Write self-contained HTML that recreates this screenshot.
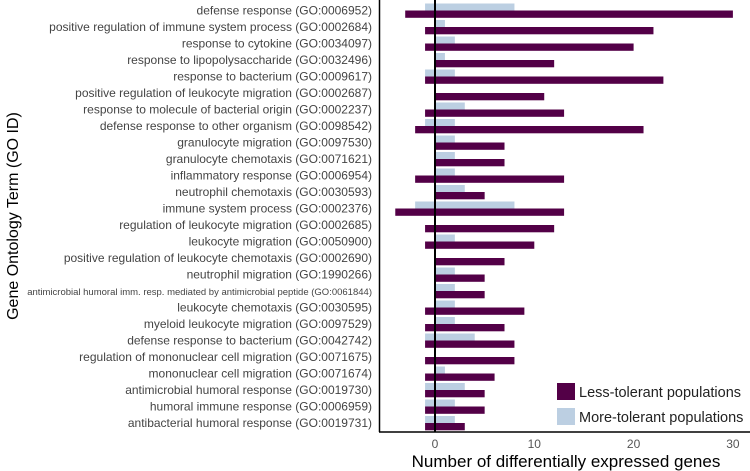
<!DOCTYPE html>
<html><head><meta charset="utf-8"><style>
html,body{margin:0;padding:0;background:#fff;}
svg{display:block;font-family:"Liberation Sans",sans-serif;}
</style></head><body>
<svg id="chart" width="750" height="471"></svg>
<script>
const terms = ["defense response (GO:0006952)","positive regulation of immune system process (GO:0002684)","response to cytokine (GO:0034097)","response to lipopolysaccharide (GO:0032496)","response to bacterium (GO:0009617)","positive regulation of leukocyte migration (GO:0002687)","response to molecule of bacterial origin (GO:0002237)","defense response to other organism (GO:0098542)","granulocyte migration (GO:0097530)","granulocyte chemotaxis (GO:0071621)","inflammatory response (GO:0006954)","neutrophil chemotaxis (GO:0030593)","immune system process (GO:0002376)","regulation of leukocyte migration (GO:0002685)","leukocyte migration (GO:0050900)","positive regulation of leukocyte chemotaxis (GO:0002690)","neutrophil migration (GO:1990266)","antimicrobial humoral imm. resp. mediated by antimicrobial peptide (GO:0061844)","leukocyte chemotaxis (GO:0030595)","myeloid leukocyte migration (GO:0097529)","defense response to bacterium (GO:0042742)","regulation of mononuclear cell migration (GO:0071675)","mononuclear cell migration (GO:0071674)","antimicrobial humoral response (GO:0019730)","humoral immune response (GO:0006959)","antibacterial humoral response (GO:0019731)"];
const lessLow  = [-3,-1,-1,0,-1,0,-1,-2,0,0,-2,0,-4,-1,-1,0,0,0,-1,-1,-1,-1,-1,-1,-1,-1];
const lessHigh = [30,22,20,12,23,11,13,21,7,7,13,5,13,12,10,7,5,5,9,7,8,8,6,5,5,3];
const moreLow  = [-1,0,0,0,-1,0,0,-1,0,0,0,0,-2,0,0,0,0,0,0,0,-1,0,0,-1,-1,-1];
const moreHigh = [8,1,2,1,2,0,3,2,2,2,2,3,8,0,2,0,2,2,2,2,4,0,1,3,2,2];
const xTicks = [0,10,20,30];

const NS="http://www.w3.org/2000/svg";
const svg=document.getElementById('chart');
function mk(tag,attrs,parent){const e=document.createElementNS(NS,tag);for(const k in attrs)e.setAttribute(k,attrs[k]);(parent||svg).appendChild(e);return e;}
const x=v=>435+v*9.93;
const rowY=i=>10.5+i*16.5;

terms.forEach((t,i)=>{
  const c=rowY(i);
  if(moreHigh[i]>moreLow[i]){
    const r=mk('rect',{x:x(moreLow[i]),y:c-7,width:x(moreHigh[i])-x(moreLow[i]),height:7,fill:'#bccfe2'});
    
    
  }
  const d=mk('rect',{x:x(lessLow[i]),y:c,width:x(lessHigh[i])-x(lessLow[i]),height:7.3,fill:'#530047'});
  
  
  const fs=i===17?9.5:12;
  const lb=mk('text',{x:372,y:c+4,'text-anchor':'end','font-size':fs,fill:'#444'});
  lb.textContent=t;
  
  
});

const zl=mk('line',{x1:435,y1:0,x2:435,y2:432,stroke:'#000','stroke-width':2});


const ya=mk('line',{x1:379.5,y1:0,x2:379.5,y2:432,stroke:'#000','stroke-width':1.5});


const xa=mk('line',{x1:379,y1:432,x2:750,y2:432,stroke:'#000','stroke-width':1.5});



xTicks.forEach(v=>{
  const t=mk('text',{x:x(v),y:448,'text-anchor':'middle','font-size':12,fill:'#555'});
  t.textContent=v;
  
  
});

const xt=mk('text',{x:566,y:467,'text-anchor':'middle','font-size':17,fill:'#000'});
xt.textContent='Number of differentially expressed genes';


const yt=mk('text',{x:0,y:0,'text-anchor':'middle','font-size':16,fill:'#000',transform:'translate(18,216) rotate(-90)'});
yt.textContent='Gene Ontology Term (GO ID)';



const lg=mk('g',{});


const l1=mk('rect',{x:557,y:383,width:18,height:17,fill:'#530047'},lg);


const l2=mk('rect',{x:557,y:408,width:18,height:17,fill:'#bccfe2'},lg);


const t1=mk('text',{x:579,y:397,'font-size':14.5,fill:'#222'},lg);
t1.textContent='Less-tolerant populations';


const t2=mk('text',{x:579,y:422,'font-size':14.5,fill:'#222'},lg);
t2.textContent='More-tolerant populations';


</script>
</body></html>
